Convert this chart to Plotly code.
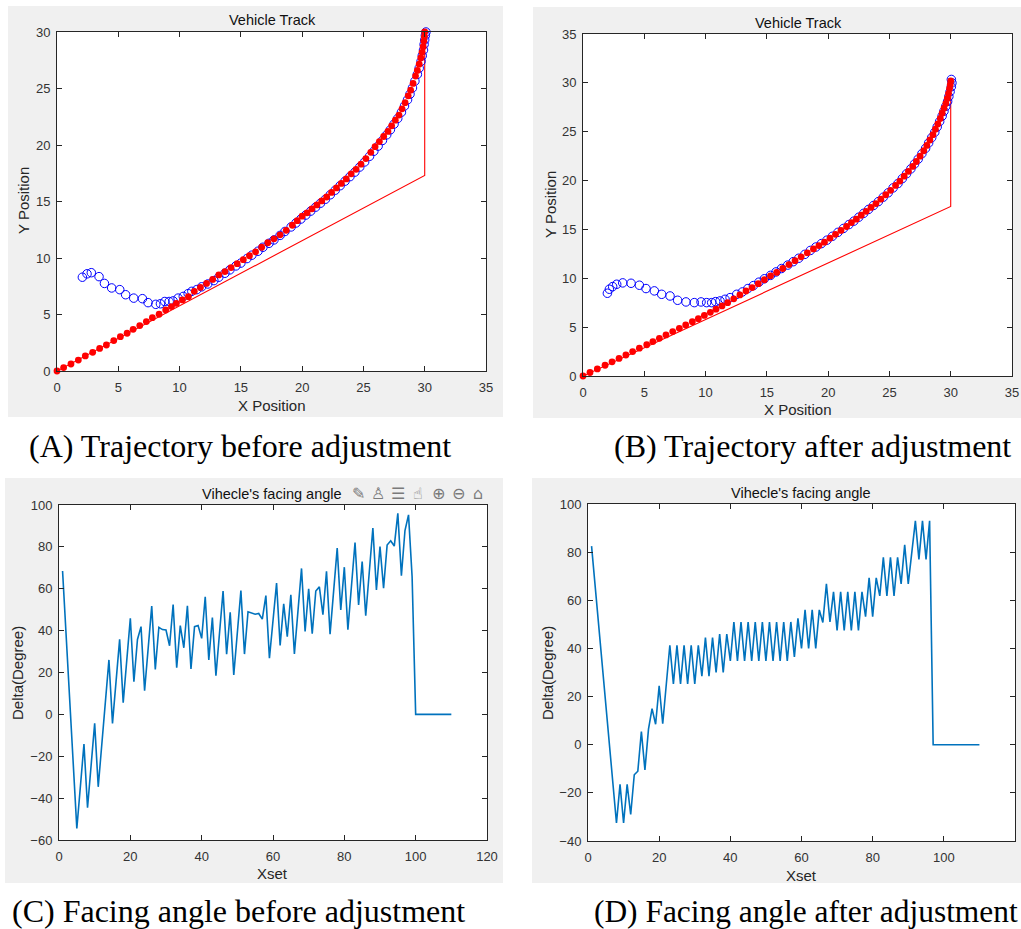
import plotly.graph_objects as go

W, H = 1021, 929
SANS = "Liberation Sans, Arial, sans-serif"
SERIF = "Liberation Serif, Times New Roman, serif"

# ---------------- Panel A: trajectory before adjustment ----------------
a_line_x = [0, 30, 30]
a_line_y = [0, 17.3, 30]
a_red_x = [0, 0.54, 1.14, 1.74, 2.31, 2.91, 3.48, 4.03, 4.63, 5.17, 5.72, 6.21, 6.75, 7.29, 7.78,
           8.33, 8.87, 9.34, 9.74, 10.23, 10.72, 11.2, 11.7, 12.2, 12.7, 13.2, 13.7, 14.2, 14.7,
           15.2, 15.7, 16.2, 16.7, 17.2, 17.7, 18.2, 18.7, 19.2, 19.6, 20.0, 20.4, 20.8, 21.2,
           21.6, 22.0, 22.4, 22.8, 23.2, 23.6, 24.0, 24.4, 24.8, 25.2, 25.6, 25.95, 26.3, 26.65,
           27.0, 27.3, 27.6, 27.9, 28.15, 28.4, 28.65, 28.85, 29.05, 29.25, 29.4, 29.55, 29.68,
           29.78, 29.87, 29.93, 29.97, 30.0]
a_red_y = [0, 0.3, 0.62, 0.97, 1.33, 1.65, 2.0, 2.3, 2.69, 3.04, 3.34, 3.69, 4.02, 4.37, 4.72,
           5.02, 5.4, 5.7, 5.99, 6.29, 6.58, 7.05, 7.4, 7.75, 8.1, 8.5, 8.8, 9.15, 9.5,
           9.85, 10.2, 10.55, 10.95, 11.35, 11.7, 12.05, 12.45, 12.9, 13.3, 13.7, 14.0, 14.35, 14.7,
           15.05, 15.4, 15.8, 16.2, 16.6, 17.0, 17.45, 17.85, 18.3, 18.8, 19.35, 19.85, 20.3, 20.75,
           21.2, 21.7, 22.2, 22.65, 23.2, 23.75, 24.35, 24.85, 25.45, 26.1, 26.6, 27.15, 27.7,
           28.2, 28.7, 29.2, 29.6, 30.0]
a_blue_x = [2.07, 2.45, 2.8, 3.43, 3.87, 4.46, 5.12, 5.6, 6.26, 6.97, 7.43, 8.06, 8.44, 8.79,
            9.15, 9.47, 9.88, 10.3, 10.7, 11.0, 11.4, 11.8, 12.3, 12.8, 13.2, 13.7, 14.1, 14.6,
            15.0, 15.5, 15.9, 16.4, 16.8, 17.3, 17.7, 18.2, 18.6, 19.1, 19.5, 19.9, 20.3, 20.7,
            21.1, 21.5, 21.9, 22.3, 22.7, 23.1, 23.5, 23.9, 24.3, 24.7, 25.1, 25.5, 25.85, 26.2,
            26.55, 26.9, 27.2, 27.5, 27.8, 28.1, 28.35, 28.6, 28.8, 29.0, 29.2, 29.4, 29.55, 29.7,
            29.8, 29.9, 29.95, 30.0, 30.05, 30.1]
a_blue_y = [8.3, 8.6, 8.7, 8.35, 7.75, 7.35, 7.2, 6.75, 6.45, 6.4, 6.05, 5.9, 5.95, 6.15,
            6.15, 6.2, 6.45, 6.6, 6.85, 7.05, 7.2, 7.45, 7.7, 8.0, 8.3, 8.65, 8.95, 9.3,
            9.55, 9.95, 10.25, 10.6, 10.95, 11.3, 11.6, 12.0, 12.35, 12.75, 13.1, 13.45, 13.8, 14.15,
            14.5, 14.85, 15.2, 15.6, 16.0, 16.4, 16.8, 17.2, 17.6, 18.05, 18.5, 19.0, 19.45, 19.9,
            20.4, 20.9, 21.35, 21.85, 22.35, 22.9, 23.45, 24.0, 24.5, 25.05, 25.65, 26.25, 26.8, 27.4,
            27.9, 28.4, 28.9, 29.3, 29.7, 30.0]

# ---------------- Panel B: trajectory after adjustment ----------------
b_line_x = [0, 30, 30]
b_line_y = [0, 17.35, 30]
b_red_x = [0, 0.57, 1.17, 1.8, 2.37, 2.94, 3.5, 4.05, 4.6, 5.2, 5.7, 6.23, 6.77, 7.32, 7.86,
           8.38, 8.92, 9.41, 9.9, 10.39, 10.85, 11.34, 11.8, 12.3, 12.8, 13.3, 13.8, 14.3, 14.8,
           15.3, 15.8, 16.3, 16.8, 17.3, 17.8, 18.3, 18.8, 19.25, 19.7, 20.15, 20.6, 21.05, 21.5,
           21.9, 22.3, 22.7, 23.1, 23.5, 23.9, 24.3, 24.7, 25.1, 25.5, 25.85, 26.2, 26.55, 26.9,
           27.2, 27.5, 27.8, 28.05, 28.3, 28.55, 28.75, 28.95, 29.15, 29.3, 29.45, 29.6, 29.72,
           29.82, 29.9, 29.96, 30.0]
b_red_y = [0, 0.36, 0.72, 1.1, 1.45, 1.8, 2.15, 2.5, 2.85, 3.2, 3.52, 3.86, 4.2, 4.55, 4.88,
           5.22, 5.55, 5.87, 6.2, 6.52, 6.84, 7.17, 7.5, 7.9, 8.3, 8.7, 9.05, 9.45, 9.85,
           10.25, 10.6, 11.0, 11.4, 11.8, 12.2, 12.6, 13.0, 13.35, 13.7, 14.1, 14.5, 14.9, 15.3,
           15.7, 16.05, 16.45, 16.85, 17.25, 17.65, 18.1, 18.55, 19.0, 19.5, 19.95, 20.45, 20.95, 21.45,
           21.95, 22.5, 23.05, 23.6, 24.15, 24.7, 25.25, 25.8, 26.35, 26.9, 27.4, 27.9, 28.4,
           28.9, 29.4, 29.8, 30.2]
b_blue_x = [1.99, 2.15, 2.42, 2.75, 3.24, 3.92, 4.6, 5.14, 5.82, 6.42, 7.1, 7.72, 8.4, 9.08,
            9.63, 10.09, 10.5, 10.82, 11.18, 11.59, 12.0, 12.54, 13.0, 13.45, 13.9, 14.35, 14.8,
            15.3, 15.75, 16.2, 16.7, 17.15, 17.6, 18.1, 18.55, 19.0, 19.45, 19.9, 20.35, 20.8,
            21.25, 21.7, 22.1, 22.5, 22.9, 23.3, 23.7, 24.1, 24.5, 24.9, 25.3, 25.7, 26.05, 26.4,
            26.75, 27.05, 27.35, 27.65, 27.95, 28.2, 28.45, 28.7, 28.9, 29.1, 29.3, 29.45, 29.6,
            29.75, 29.85, 29.95, 30.05, 30.1, 30.05]
b_blue_y = [8.47, 8.88, 9.15, 9.39, 9.53, 9.49, 9.29, 8.95, 8.71, 8.36, 8.19, 7.75, 7.58, 7.51,
            7.58, 7.51, 7.51, 7.61, 7.68, 7.85, 8.02, 8.36, 8.6, 8.95, 9.25, 9.6, 9.95,
            10.3, 10.65, 11.0, 11.35, 11.7, 12.05, 12.45, 12.85, 13.2, 13.55, 13.9, 14.3, 14.7,
            15.1, 15.5, 15.85, 16.25, 16.65, 17.05, 17.45, 17.85, 18.3, 18.75, 19.25, 19.7, 20.2, 20.7,
            21.2, 21.7, 22.2, 22.75, 23.3, 23.85, 24.4, 24.95, 25.5, 26.05, 26.6, 27.1, 27.6,
            28.1, 28.6, 29.1, 29.6, 30.0, 30.35]

# ---------------- Panel C: facing angle before adjustment ----------------
c_x = [1, 5, 7, 8, 10, 11, 14, 15, 17, 18, 20, 21, 22, 23, 24, 26, 27, 28, 29, 30, 31, 32, 33,
       34, 35, 36, 37, 38, 39, 40, 41, 42, 43, 44, 46, 47, 48, 49, 51, 52, 53, 54, 55, 56, 57,
       58, 59, 61, 62, 63, 64, 65, 66, 68, 69, 70, 71, 72, 73, 74, 75, 76, 78, 79, 80, 81, 83,
       84, 85, 86, 88, 89, 90, 91, 92, 93, 94, 95, 96, 97, 98, 99, 100, 110]
c_y = [68.5, -54.5, -14.2, -44.6, -4.3, -34.6, 26, -4.3, 35.8, 5.6, 45.9, 15.6, 35.8, 41.9,
       11.3, 51.7, 21.5, 41.6, 40.5, 40.3, 32.8, 52.5, 22.3, 42.4, 31.8, 51.9, 21.7, 41.9, 42.4,
       36.3, 56.2, 26, 46.2, 18.5, 58.9, 28.7, 48.7, 18.8, 59.1, 28.8, 49.0, 48.3, 47.8, 48.2,
       45.5, 56.7, 26.8, 62.7, 32.9, 52.8, 37.1, 57.1, 28.9, 69.7, 39.6, 60.0, 38.5, 58.9, 60.9,
       47.6, 68.3, 38.3, 79.4, 49.9, 70.3, 40.5, 82.1, 52.3, 73.0, 47.1, 89.0, 59.4, 80.2, 60.3,
       80.9, 82.9, 80.4, 96.0, 66.2, 87.8, 95.3, 65.8, 0, 0]

# ---------------- Panel D: facing angle after adjustment ----------------
d_x = [1, 8, 9, 10, 11, 12, 13, 14, 15, 16, 17, 18, 19, 20, 21,
       23, 24, 25, 26, 27, 28, 29, 30, 31, 32, 33, 34, 35, 36, 37, 38, 39, 40, 41, 42, 43, 44,
       45, 46, 47, 48, 49, 50, 51, 52, 53, 54, 55, 56, 57, 58, 59, 60, 61, 62, 63, 64, 65, 66,
       67, 68, 69, 70, 71, 72, 73, 74, 75, 76, 77, 78, 79, 80, 81, 82, 83, 84, 85, 86, 87, 88,
       89, 90, 91, 92, 93, 94, 95, 96, 97, 110]
d_y = [82.5, -32.5, -16.5, -32.5, -16.5, -29, -12.5, -11, 5.5, -10.5, 6.5, 15, 8.5, 24.5, 8.7,
       41.3, 25.3, 41.3, 25.3, 41.3, 25.3, 41.3, 25.3, 41.3, 28.5, 44.5, 28.5, 44.5, 30, 46, 30,
       46, 34.8, 51, 34.8, 51, 34.8, 51, 34.8, 51, 34.8, 51, 34.8, 51, 34.8, 51, 34.8, 51, 34.8,
       51, 36.5, 52.5, 40, 56, 40, 56, 40, 56, 50.8, 66.8, 51, 63.5, 47.5, 63.5, 47.5, 63.5,
       47.5, 63.5, 47.5, 63.5, 53.2, 69.3, 53.2, 69.3, 61.8, 77.8, 61.8, 77.8, 61.8, 77.8, 66.8,
       83, 66.8, 81, 93, 77, 93, 77, 93, 0, 0]

x_ticks_track = [0, 5, 10, 15, 20, 25, 30, 35]
y_ticks_a = [0, 5, 10, 15, 20, 25, 30]
y_ticks_b = [0, 5, 10, 15, 20, 25, 30, 35]
x_ticks_angle = [0, 20, 40, 60, 80, 100, 120]
y_ticks_c = [-60, -40, -20, 0, 20, 40, 60, 80, 100]
y_ticks_d = [-40, -20, 0, 20, 40, 60, 80, 100]

# ---------------- layout geometry (pixels) ----------------
bg_boxes = [(8, 6, 503, 417), (533, 7, 1021, 418), (5, 478, 503, 883), (532, 478, 1021, 883)]
plot_boxes = [(57, 32, 486, 371), (583, 34, 1012, 376), (59, 505, 487, 840), (588, 504, 1015, 841)]


def fx(p):
    return p / W


def fy(p):
    return 1 - p / H


fig = go.Figure()

RED = "#ff0000"
BLUE = "#0000ff"
MLBLUE = "#0072bd"

# Panel A
fig.add_trace(go.Scatter(x=a_line_x, y=a_line_y, mode="lines", line=dict(color=RED, width=1.1),
                         xaxis="x", yaxis="y", showlegend=False, cliponaxis=False))
fig.add_trace(go.Scatter(x=a_blue_x, y=a_blue_y, mode="markers",
                         marker=dict(symbol="circle-open", size=8.5, color=BLUE, line=dict(width=1)),
                         xaxis="x", yaxis="y", showlegend=False, cliponaxis=False))
fig.add_trace(go.Scatter(x=a_red_x, y=a_red_y, mode="markers",
                         marker=dict(symbol="circle", size=6.8, color=RED, line=dict(width=0)),
                         xaxis="x", yaxis="y", showlegend=False, cliponaxis=False))
# Panel B
fig.add_trace(go.Scatter(x=b_line_x, y=b_line_y, mode="lines", line=dict(color=RED, width=1.1),
                         xaxis="x2", yaxis="y2", showlegend=False, cliponaxis=False))
fig.add_trace(go.Scatter(x=b_blue_x, y=b_blue_y, mode="markers",
                         marker=dict(symbol="circle-open", size=8.5, color=BLUE, line=dict(width=1)),
                         xaxis="x2", yaxis="y2", showlegend=False, cliponaxis=False))
fig.add_trace(go.Scatter(x=b_red_x, y=b_red_y, mode="markers",
                         marker=dict(symbol="circle", size=6.8, color=RED, line=dict(width=0)),
                         xaxis="x2", yaxis="y2", showlegend=False, cliponaxis=False))
# Panel C
fig.add_trace(go.Scatter(x=c_x, y=c_y, mode="lines", line=dict(color=MLBLUE, width=1.6),
                         xaxis="x3", yaxis="y3", showlegend=False))
# Panel D
fig.add_trace(go.Scatter(x=d_x, y=d_y, mode="lines", line=dict(color=MLBLUE, width=1.6),
                         xaxis="x4", yaxis="y4", showlegend=False))

axis_common = dict(showline=True, linecolor="#262626", linewidth=1, mirror="allticks",
                   ticks="inside", ticklen=5, tickwidth=1, tickcolor="#262626",
                   showgrid=False, zeroline=False, fixedrange=True, automargin=False,
                   tickfont=dict(family=SANS, size=13, color="#333333"))

specs = [
    ("", [0, 35], x_ticks_track, [0, 30], y_ticks_a),
    ("2", [0, 35], x_ticks_track, [0, 35], y_ticks_b),
    ("3", [0, 120], x_ticks_angle, [-60, 100], y_ticks_c),
    ("4", [0, 120], x_ticks_angle, [-40, 100], y_ticks_d),
]
layout_axes = {}
for (suf, xr, xt, yr, yt), (l, t, r, b) in zip(specs, plot_boxes):
    layout_axes["xaxis" + suf] = dict(axis_common, domain=[fx(l), fx(r)], range=xr, tickvals=xt,
                                      anchor="y" + suf, ticklabelstandoff=4)
    layout_axes["yaxis" + suf] = dict(axis_common, domain=[fy(b), fy(t)], range=yr, tickvals=yt,
                                      anchor="x" + suf, ticklabelstandoff=3)

shapes = []
for (l, t, r, b) in bg_boxes:
    shapes.append(dict(type="rect", xref="paper", yref="paper", x0=fx(l), x1=fx(r), y0=fy(b), y1=fy(t),
                       fillcolor="#f0f0f0", line=dict(width=0), layer="below"))
for (l, t, r, b) in plot_boxes:
    shapes.append(dict(type="rect", xref="paper", yref="paper", x0=fx(l), x1=fx(r), y0=fy(b), y1=fy(t),
                       fillcolor="#ffffff", line=dict(width=0), layer="below"))

annotations = []


def text(s, x, y, size, family=SANS, color="#262626", xanchor="center", angle=0):
    annotations.append(dict(text=s, x=fx(x), y=fy(y), xref="paper", yref="paper", showarrow=False,
                            xanchor=xanchor, yanchor="middle", textangle=angle,
                            font=dict(family=family, size=size, color=color)))


# titles
text("Vehicle Track", 272, 20, 14.5, color="#111111")
text("Vehicle Track", 798, 23, 14.5, color="#111111")
text("Vihecle's facing angle", 272, 494, 14.5, color="#111111")
text("Vihecle's facing angle", 801, 493, 14.5, color="#111111")
# axis labels
text("X Position", 272, 405, 15)
text("Y Position", 24, 201, 15, angle=-90)
text("X Position", 798, 409, 15)
text("Y Position", 550, 205, 15, angle=-90)
text("Xset", 272, 873, 15)
text("Delta(Degree)", 17, 673, 15, angle=-90)
text("Xset", 801, 875, 15)
text("Delta(Degree)", 547, 673, 15, angle=-90)
# axes toolbar icons (panel C)
for sym, xpos in zip(["✎", "♙", "☰", "☝", "⊕", "⊖", "⌂"], [358, 378, 398, 418, 438, 458, 478]):
    text(sym, xpos, 494, 16, family="DejaVu Sans", color="#7a7a7a")
# captions
text("(A) Trajectory before adjustment", 27, 446, 32, family=SERIF, color="#000000", xanchor="left")
text("(B) Trajectory after adjustment", 612, 446, 32, family=SERIF, color="#000000", xanchor="left")
text("(C) Facing angle before adjustment", 10, 911, 32, family=SERIF, color="#000000", xanchor="left")
text("(D) Facing angle after adjustment", 592, 911, 31.4, family=SERIF, color="#000000", xanchor="left")

fig.update_layout(width=W, height=H, margin=dict(l=0, r=0, t=0, b=0, pad=0, autoexpand=False),
                  paper_bgcolor="#ffffff", plot_bgcolor="#ffffff",
                  shapes=shapes, annotations=annotations, **layout_axes)

fig.write_html("out.html", config={"displayModeBar": False},
               post_script="document.body.style.margin='0px';document.body.style.overflow='hidden';")
